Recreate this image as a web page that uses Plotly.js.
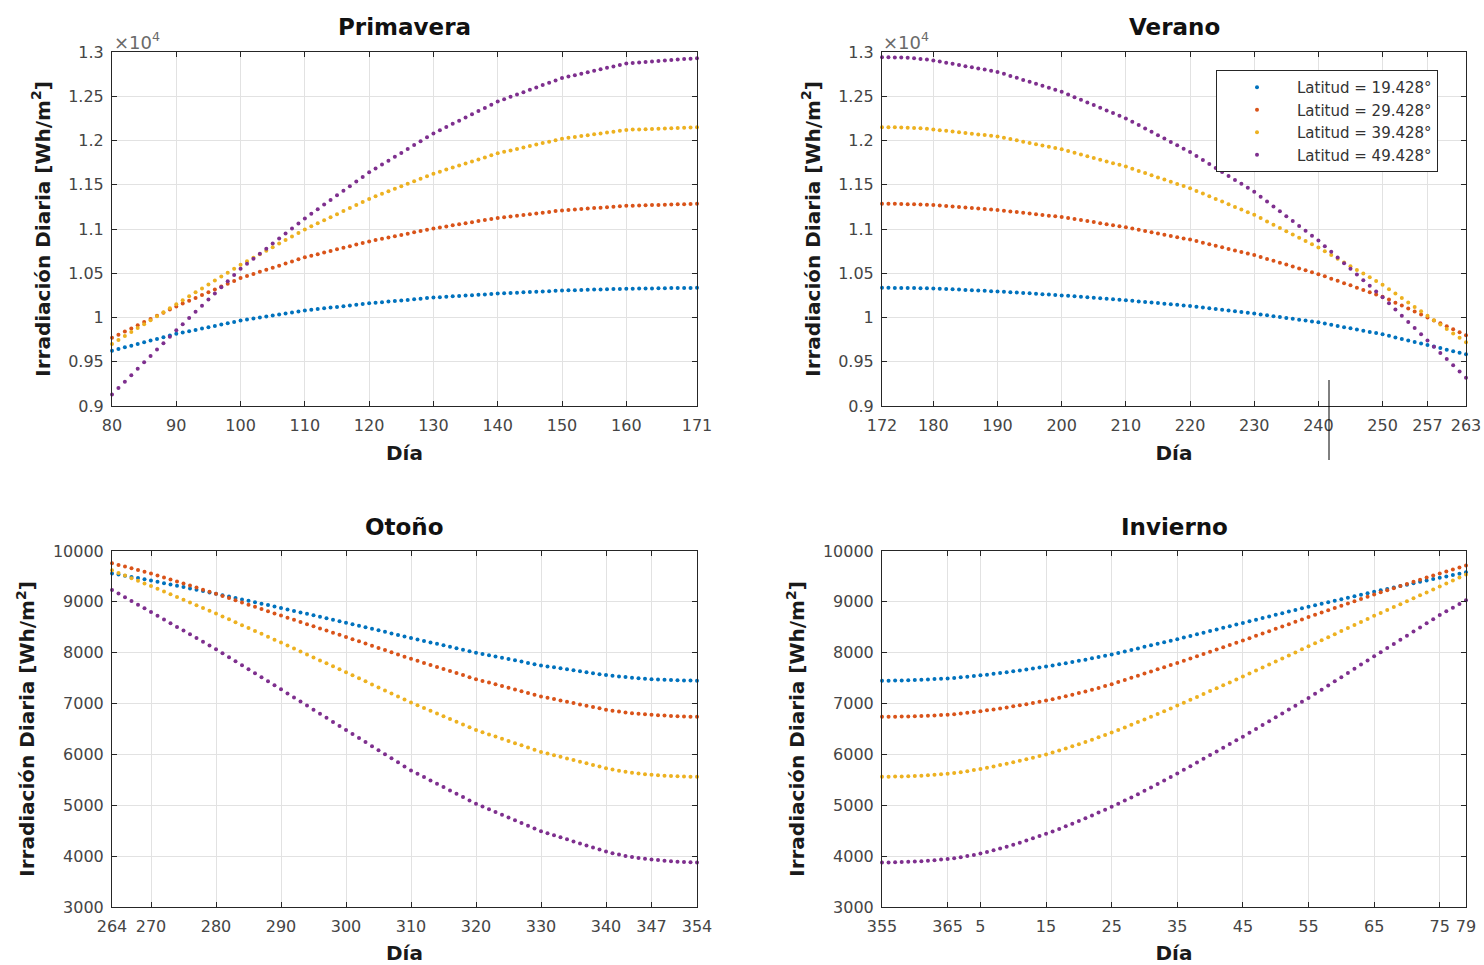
<!DOCTYPE html>
<html>
<head>
<meta charset="utf-8">
<script src="https://cdn.plot.ly/plotly-3.0.1.min.js"></script>
<style>
html,body{margin:0;padding:0;background:#fff;}
#chart{width:1484px;height:965px;}
</style>
</head>
<body>
<div id="chart"></div>
<script>
// ---------------- DATA (Wh/m², one value per day) ----------------
const latitudes = ['19.428', '29.428', '39.428', '49.428'];
const seasonTitles = ['Primavera', 'Verano', 'Otoño', 'Invierno'];

// Day ranges of each season
function dayRange(a, b) { const r = []; for (let d = a; d <= b; d++) r.push(d); return r; }
const diasPrimavera = dayRange(80, 171);
const diasVerano = dayRange(172, 263);
const diasOtono = dayRange(264, 354);
const diasInvierno = dayRange(355, 365).concat(dayRange(1, 79));

// Primavera
const primaveraLat19 = [9625,9644,9663,9682,9701,9720,9739,9758,9777,9796,9815,
9830,9845,9860,9875,9890,9905,9920,9935,9950,9965,
9977,9988,10000,10011,10023,10034,10046,10057,10069,10080,
10088,10096,10104,10112,10120,10128,10136,10144,10152,10160,
10167,10173,10180,10186,10193,10199,10206,10212,10219,10225,
10230,10234,10239,10243,10248,10252,10257,10261,10266,10270,
10274,10277,10281,10284,10288,10291,10295,10298,10302,10305,
10307,10309,10311,10313,10315,10317,10319,10321,10323,10325,
10326,10327,10328,10329,10330,10331,10332,10333,10334,10334,10335];
const primaveraLat29 = [9770,9806,9841,9877,9912,9948,9983,10019,10054,10090,10125,
10157,10189,10221,10253,10285,10317,10349,10381,10413,10445,
10469,10492,10516,10539,10563,10586,10610,10633,10657,10680,
10698,10716,10734,10752,10770,10788,10806,10824,10842,10860,
10875,10889,10904,10918,10933,10947,10962,10976,10991,11005,
11017,11029,11041,11053,11065,11077,11089,11101,11113,11125,
11134,11142,11151,11159,11168,11176,11185,11193,11202,11210,
11215,11220,11226,11231,11236,11241,11246,11252,11257,11262,
11264,11266,11268,11270,11272,11275,11277,11279,11281,11283,11285];
const primaveraLat39 = [9700,9745,9790,9835,9880,9925,9970,10015,10060,10105,10150,
10195,10239,10284,10328,10373,10417,10462,10506,10551,10595,
10635,10675,10715,10755,10795,10835,10875,10915,10955,10995,
11030,11064,11099,11133,11168,11202,11237,11271,11306,11340,
11369,11397,11426,11454,11483,11511,11540,11568,11597,11625,
11648,11671,11694,11717,11740,11763,11786,11809,11832,11855,
11872,11888,11905,11921,11938,11954,11971,11987,12004,12020,
12030,12040,12050,12060,12070,12080,12090,12100,12110,12120,
12123,12125,12128,12131,12134,12136,12139,12142,12145,12147,12150];
const primaveraLat49 = [9130,9203,9275,9348,9420,9493,9565,9638,9710,9783,9855,
9925,9994,10064,10133,10203,10272,10342,10411,10481,10550,
10607,10664,10721,10778,10835,10892,10949,11006,11063,11120,
11172,11224,11276,11328,11380,11432,11484,11536,11588,11640,
11684,11728,11772,11816,11860,11904,11948,11992,12036,12080,
12116,12152,12188,12224,12260,12296,12332,12368,12404,12440,
12467,12493,12520,12546,12573,12599,12626,12652,12679,12705,
12722,12738,12755,12771,12788,12804,12821,12837,12854,12870,
12876,12881,12887,12892,12898,12903,12909,12914,12920,12925,12930];

// Verano
const veranoLat19 = [10335,10335,10334,10334,10333,10332,10331,10330,10328,
10325,10321,10318,10315,10311,10308,10305,10302,10298,10295,
10291,10286,10282,10277,10273,10268,10264,10259,10255,10250,
10245,10239,10234,10228,10223,10217,10212,10206,10201,10195,
10189,10182,10176,10169,10163,10156,10150,10143,10137,10130,
10122,10113,10105,10096,10088,10079,10071,10062,10054,10045,
10035,10025,10015,10005,9995,9985,9975,9965,9955,9945,
9932,9918,9905,9891,9878,9864,9851,9837,9824,9810,
9793,9775,9758,9741,9724,9706,9689,9672,9654,9637,9620,9602,9585];
const veranoLat29 = [11285,11285,11284,11283,11281,11279,11277,11274,11270,
11265,11259,11254,11248,11243,11237,11232,11226,11221,11215,
11207,11199,11191,11183,11175,11167,11159,11151,11143,11135,
11124,11112,11101,11089,11078,11066,11055,11043,11032,11020,
11006,10992,10978,10964,10950,10936,10922,10908,10894,10880,
10863,10845,10828,10810,10793,10775,10758,10740,10723,10705,
10684,10662,10641,10619,10598,10576,10555,10533,10512,10490,
10465,10439,10414,10388,10363,10337,10312,10286,10261,10235,
10202,10168,10135,10101,10068,10034,10001,9967,9934,9900,9867,9833,9800];
const veranoLat39 = [12150,12150,12149,12147,12145,12142,12138,12132,12125,
12117,12109,12101,12093,12085,12077,12069,12061,12053,12045,
12031,12016,12002,11987,11973,11958,11944,11929,11915,11900,
11881,11861,11842,11822,11803,11783,11764,11744,11725,11705,
11681,11656,11632,11607,11583,11558,11534,11509,11485,11460,
11430,11400,11370,11340,11310,11280,11250,11220,11190,11160,
11123,11086,11049,11012,10975,10938,10901,10864,10827,10790,
10748,10706,10664,10622,10580,10538,10496,10454,10412,10370,
10320,10270,10220,10170,10120,10070,10020,9970,9920,9870,9820,9770,9720];
const veranoLat49 = [12940,12940,12939,12937,12934,12929,12922,12914,12905,
12892,12879,12866,12853,12840,12827,12814,12801,12788,12775,
12753,12730,12708,12685,12663,12640,12618,12595,12573,12550,
12520,12490,12460,12430,12400,12370,12340,12310,12280,12250,
12212,12174,12136,12098,12060,12022,11984,11946,11908,11870,
11825,11780,11735,11690,11645,11600,11555,11510,11465,11420,
11365,11310,11255,11200,11145,11090,11035,10980,10925,10870,
10806,10742,10678,10614,10550,10486,10422,10358,10294,10230,
10160,10090,10020,9950,9880,9810,9740,9670,9600,9530,9460,9390,9320];

// Otoño
const otonoLat19 = [9560,9537,9513,9490,9467,9443,9420,
9394,9368,9342,9316,9290,9264,9238,9212,9186,9160,
9132,9104,9076,9048,9020,8992,8964,8936,8908,8880,
8851,8822,8793,8764,8735,8706,8677,8648,8619,8590,
8560,8530,8500,8470,8440,8410,8380,8350,8320,8290,
8261,8232,8203,8174,8145,8116,8087,8058,8029,8000,
7975,7950,7925,7900,7875,7850,7825,7800,7775,7750,
7731,7712,7693,7674,7655,7636,7617,7598,7579,7560,
7546,7533,7521,7510,7499,7489,7480,
7473,7467,7462,7458,7455,7452,7450];
const otonoLat29 = [9760,9727,9693,9660,9627,9593,9560,
9520,9480,9440,9400,9360,9320,9280,9240,9200,9160,
9117,9074,9031,8988,8945,8902,8859,8816,8773,8730,
8688,8646,8604,8562,8520,8478,8436,8394,8352,8310,
8267,8224,8181,8138,8095,8052,8009,7966,7923,7880,
7840,7800,7760,7720,7680,7640,7600,7560,7520,7480,
7446,7412,7378,7344,7310,7276,7242,7208,7174,7140,
7114,7088,7062,7036,7010,6984,6958,6932,6906,6880,
6860,6842,6826,6812,6800,6789,6780,
6771,6763,6756,6750,6745,6742,6740];
const otonoLat39 = [9620,9568,9517,9465,9413,9362,9310,
9256,9202,9148,9094,9040,8986,8932,8878,8824,8770,
8713,8656,8599,8542,8485,8428,8371,8314,8257,8200,
8142,8083,8025,7966,7908,7849,7791,7732,7674,7615,
7556,7496,7437,7377,7318,7258,7199,7139,7080,7020,
6966,6912,6858,6804,6750,6696,6642,6588,6534,6480,
6437,6394,6351,6308,6265,6222,6179,6136,6093,6050,
6018,5986,5954,5922,5890,5858,5826,5794,5762,5730,
5704,5681,5660,5642,5626,5612,5600,
5590,5582,5575,5569,5565,5562,5560];
const otonoLat49 = [9235,9163,9090,9018,8945,8873,8800,
8727,8654,8581,8508,8435,8362,8289,8216,8143,8070,
7991,7912,7833,7754,7675,7596,7517,7438,7359,7280,
7200,7120,7040,6960,6880,6800,6720,6640,6560,6480,
6401,6321,6242,6162,6083,6003,5924,5844,5765,5685,
5620,5554,5489,5423,5358,5292,5227,5161,5096,5030,
4976,4922,4868,4814,4760,4706,4652,4598,4544,4490,
4450,4410,4370,4330,4290,4250,4210,4170,4130,4090,
4058,4030,4005,3983,3964,3948,3935,
3922,3911,3901,3892,3885,3879,3875];

// Invierno (días 355..365, 1..79)
const inviernoLat19 = [7450,7451,7453,7456,7460,7464,7469,7475,7481,7488,7495,
7505,7516,7528,7541,7555,
7569,7584,7600,7617,7634,7652,7671,7690,7710,7730,
7751,7772,7794,7817,7840,7864,7889,7914,7940,7965,
7995,8025,8055,8085,8115,8145,8175,8205,8235,8265,
8297,8329,8361,8393,8425,8457,8489,8521,8553,8585,
8617,8649,8681,8713,8745,8777,8809,8841,8873,8905,
8935,8964,8994,9023,9053,9082,9112,9141,9171,9200,
9228,9255,9283,9310,9338,9365,9393,9420,9448,9475,
9501,9527,9554,9580];
const inviernoLat29 = [6740,6741,6742,6744,6747,6751,6755,6760,6766,6773,6780,
6791,6804,6818,6833,6850,
6867,6885,6904,6924,6945,6966,6988,7011,7035,7060,
7087,7115,7144,7174,7206,7239,7273,7308,7344,7380,
7422,7464,7506,7548,7590,7632,7674,7716,7758,7800,
7844,7888,7932,7976,8020,8064,8108,8152,8196,8240,
8286,8332,8378,8424,8470,8516,8562,8608,8654,8700,
8745,8789,8834,8878,8923,8967,9012,9056,9101,9145,
9187,9228,9270,9311,9353,9394,9436,9477,9519,9560,
9599,9638,9676,9715];
const inviernoLat39 = [5560,5562,5564,5567,5571,5576,5582,5590,5599,5609,5620,
5635,5652,5671,5692,5715,
5739,5764,5790,5817,5845,5874,5904,5935,5967,6000,
6038,6077,6117,6159,6202,6246,6291,6337,6383,6430,
6480,6531,6583,6636,6689,6742,6796,6850,6905,6960,
7017,7074,7131,7188,7245,7302,7359,7416,7473,7530,
7590,7649,7709,7768,7828,7887,7947,8006,8066,8125,
8185,8245,8305,8365,8425,8485,8545,8605,8665,8725,
8783,8840,8898,8955,9013,9070,9128,9185,9243,9300,
9360,9420,9480,9540];
const inviernoLat49 = [3875,3877,3880,3884,3889,3895,3902,3911,3921,3932,3945,
3961,3980,4001,4024,4050,
4081,4114,4149,4186,4225,4265,4307,4350,4395,4440,
4487,4536,4586,4638,4691,4745,4800,4856,4913,4970,
5030,5092,5155,5219,5284,5350,5417,5485,5554,5625,
5698,5770,5843,5915,5988,6060,6133,6205,6278,6350,
6426,6502,6578,6654,6730,6806,6882,6958,7034,7110,
7192,7274,7356,7438,7520,7602,7684,7766,7848,7930,
8011,8092,8173,8254,8335,8416,8497,8578,8659,8740,
8813,8885,8958,9030];

// Tick labels
const ticksPrimavera = [80, 90, 100, 110, 120, 130, 140, 150, 160, 171];
const ticksVerano = [172, 180, 190, 200, 210, 220, 230, 240, 250, 257, 263];
const ticksOtono = [264, 270, 280, 290, 300, 310, 320, 330, 340, 347, 354];
const ticksInvierno = [355, 365, 5, 15, 25, 35, 45, 55, 65, 75, 79];
const yTicksTop = [9000, 9500, 10000, 10500, 11000, 11500, 12000, 12500, 13000];
const yTickTextTop = ['0.9', '0.95', '1', '1.05', '1.1', '1.15', '1.2', '1.25', '1.3'];
const yTicksBottom = [3000, 4000, 5000, 6000, 7000, 8000, 9000, 10000];

// ---------------- CHART ----------------
const colors = ['#0072BD', '#D95319', '#EDB120', '#7E2F8E'];
const W = 1484, H = 965;
// winter days after new year are placed after day 365 on the axis
const posInvierno = d => (d >= 355 ? d : d + 365);

const panels = [
  { dias: diasPrimavera, pos: d => d, series: [primaveraLat19, primaveraLat29, primaveraLat39, primaveraLat49], xa: 'x', ya: 'y' },
  { dias: diasVerano, pos: d => d, series: [veranoLat19, veranoLat29, veranoLat39, veranoLat49], xa: 'x2', ya: 'y2', legend: true },
  { dias: diasOtono, pos: d => d, series: [otonoLat19, otonoLat29, otonoLat39, otonoLat49], xa: 'x3', ya: 'y3' },
  { dias: diasInvierno, pos: posInvierno, series: [inviernoLat19, inviernoLat29, inviernoLat39, inviernoLat49], xa: 'x4', ya: 'y4' }
];

const traces = [];
panels.forEach(p => {
  p.series.forEach((vals, i) => {
    traces.push({
      type: 'scatter', mode: 'markers',
      x: p.dias.map(p.pos), y: vals,
      xaxis: p.xa, yaxis: p.ya,
      name: 'Latitud = ' + latitudes[i] + '°',
      showlegend: !!p.legend,
      cliponaxis: false,
      marker: { color: colors[i], size: 4 },
      hoverinfo: 'x+y'
    });
  });
});

const FONT = 'DejaVu Sans, Liberation Sans, Arial, sans-serif';
const tickFont = { family: FONT, size: 16, color: '#454545' };
const titleFont = { family: FONT, size: 20, color: '#1a1a1a', weight: 'bold' };

const xDomL = [112 / W, 697 / W], xDomR = [882 / W, 1466 / W];
const yDomT = [1 - 406 / H, 1 - 52 / H], yDomB = [1 - 907 / H, 1 - 551 / H];

function baseAxis() {
  return {
    showline: true, linecolor: '#262626', linewidth: 1, mirror: 'ticks',
    ticks: 'inside', ticklen: 5, tickcolor: '#262626', tickwidth: 1,
    showgrid: true, gridcolor: '#e2e2e2', gridwidth: 1, zeroline: false,
    tickfont: tickFont, fixedrange: true
  };
}
function xAxis(domain, anchor, range, ticks, pos) {
  return Object.assign(baseAxis(), {
    domain: domain, anchor: anchor, range: range,
    tickmode: 'array', tickvals: ticks.map(pos), ticktext: ticks.map(String),
    ticklabelstandoff: 5,
    title: { text: 'Día', font: titleFont, standoff: 11 }
  });
}
function yAxis(domain, anchor, top) {
  return Object.assign(baseAxis(), {
    domain: domain, anchor: anchor,
    range: top ? [9000, 13000] : [3000, 10000],
    tickmode: 'array',
    tickvals: top ? yTicksTop : yTicksBottom,
    ticktext: top ? yTickTextTop : yTicksBottom.map(String),
    ticklabelstandoff: 4,
    title: { text: 'Irradiación Diaria [Wh/m<sup>2</sup>]', font: titleFont, standoff: 12 }
  });
}

const subTitleFont = { family: FONT, size: 23, color: '#111', weight: 'bold' };
const annotations = [
  { text: seasonTitles[0], x: 404.5 / W, y: 1 - 27 / H },
  { text: seasonTitles[1], x: 1174 / W, y: 1 - 27 / H },
  { text: seasonTitles[2], x: 404.5 / W, y: 1 - 527 / H },
  { text: seasonTitles[3], x: 1174 / W, y: 1 - 527 / H }
].map(a => Object.assign(a, { xref: 'paper', yref: 'paper', showarrow: false, xanchor: 'center', yanchor: 'middle', font: subTitleFont }));
[112, 881].forEach(px => annotations.push({
  text: '×10<sup>4</sup>', x: px / W, y: 1 - 41 / H, xref: 'paper', yref: 'paper',
  showarrow: false, xanchor: 'left', yanchor: 'middle',
  font: { family: FONT, size: 18, color: '#6a6a6a' }
}));

const layout = {
  width: W, height: H,
  margin: { l: 0, r: 0, t: 0, b: 0 },
  paper_bgcolor: '#fff', plot_bgcolor: '#fff',
  showlegend: true,
  legend: {
    x: 1216 / W, y: 1 - 70 / H, xanchor: 'left', yanchor: 'top',
    bgcolor: '#fff', bordercolor: '#262626', borderwidth: 1,
    font: { family: FONT, size: 15, color: '#333' },
    itemwidth: 70, tracegroupgap: 0
  },
  xaxis: xAxis(xDomL, 'y', [80, 171], ticksPrimavera, d => d),
  yaxis: yAxis(yDomT, 'x', true),
  xaxis2: xAxis(xDomR, 'y2', [172, 263], ticksVerano, d => d),
  yaxis2: yAxis(yDomT, 'x2', true),
  xaxis3: xAxis(xDomL, 'y3', [264, 354], ticksOtono, d => d),
  yaxis3: yAxis(yDomB, 'x3', false),
  xaxis4: xAxis(xDomR, 'y4', [355, 444], ticksInvierno, posInvierno),
  yaxis4: yAxis(yDomB, 'x4', false),
  annotations: annotations,
  shapes: [{
    type: 'line', xref: 'paper', yref: 'paper',
    x0: 1329 / W, x1: 1329 / W, y0: 1 - 460 / H, y1: 1 - 380 / H,
    line: { color: '#000', width: 1 }
  }]
};

Plotly.newPlot('chart', traces, layout, { displayModeBar: false, staticPlot: true });
</script>
</body>
</html>
